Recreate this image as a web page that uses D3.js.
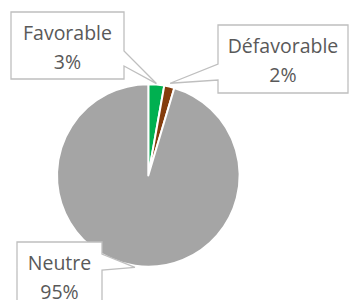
<!DOCTYPE html>
<html><head><meta charset="utf-8">
<script src="https://cdn.jsdelivr.net/npm/d3@7"></script>
<style>html,body{margin:0;padding:0;background:#fff;}svg{display:block;}</style>
</head><body>
<svg id="chart" width="349" height="300"></svg>
<script>
const categories = ["Favorable", "Défavorable", "Neutre"];
const values = [2.8, 1.8, 95.4];
const colors = ["#00B050", "#843C0C", "#A5A5A5"];

const W = 349, H = 300;
const cx = 148.3, cy = 175.5, R = 91.3;
const svg = d3.select("#chart");
const g = svg.append("g").attr("transform", `translate(${cx},${cy})`);

const pie = d3.pie().sort(null).value(d => d)(values);
const arc = d3.arc().innerRadius(0).outerRadius(R);
g.selectAll("path.slice").data(pie).join("path")
  .attr("class", "slice")
  .attr("d", arc)
  .attr("fill", (d, i) => colors[i])
  .attr("stroke", "#fff").attr("stroke-width", 2).attr("stroke-linejoin", "round");

const total = d3.sum(values);
const tipR = [R + 1, R + 3.5, R + 1.5];
const boxes = [
  {x0: 11, y0: 12, x1: 124, y1: 79, side: "right", w0: 51, w1: 66},
  {x0: 218, y0: 25, x1: 348, y1: 93, side: "left", w0: 64, w1: 80},
  {x0: 17, y0: 242, x1: 102, y1: 312, side: "right", w0: 254, w1: 270}
];
const labelG = svg.append("g");
pie.forEach((p, i) => {
  const a = (p.startAngle + p.endAngle) / 2;
  const tx = cx + tipR[i] * Math.sin(a), ty = cy - tipR[i] * Math.cos(a);
  const b = boxes[i];
  let d;
  if (b.side === "right") {
    d = `M${b.x0},${b.y0}H${b.x1}V${b.w0}L${tx},${ty}L${b.x1},${b.w1}V${b.y1}H${b.x0}Z`;
  } else {
    d = `M${b.x0},${b.y0}H${b.x1}V${b.y1}H${b.x0}V${b.w1}L${tx},${ty}L${b.x0},${b.w0}Z`;
  }
  labelG.append("path").attr("d", d).attr("fill", "#fff")
    .attr("stroke", "#BFBFBF").attr("stroke-width", 1.3);
  const mx = (b.x0 + b.x1) / 2;
  const t = labelG.append("text").attr("text-anchor", "middle")
    .attr("font-family", "'Open Sans', sans-serif").attr("font-size", 19.5)
    .attr("fill", "#595959");
  t.append("tspan").attr("x", mx).attr("y", b.y0 + 28).text(categories[i]);
  t.append("tspan").attr("x", mx).attr("y", b.y0 + 56.5).text(Math.round(values[i] / total * 100) + "%");
});
</script>
</body></html>
